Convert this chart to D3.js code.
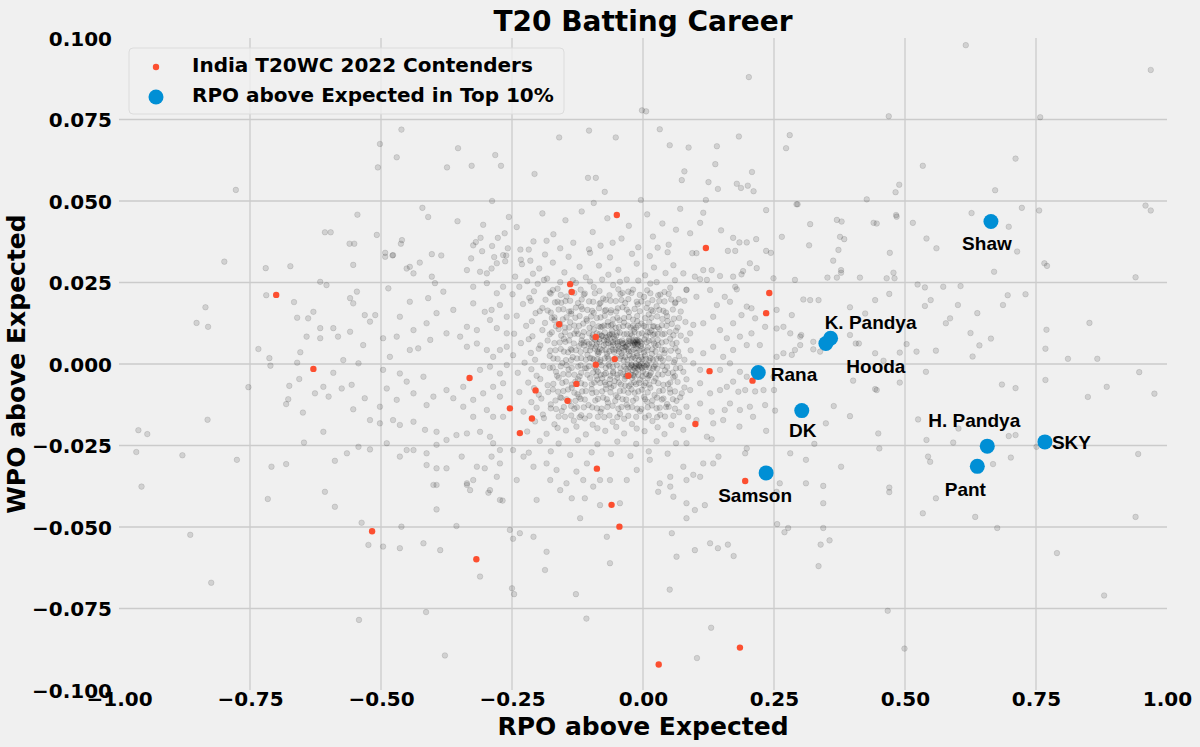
<!DOCTYPE html>
<html>
<head>
<meta charset="utf-8">
<script src="https://cdn.jsdelivr.net/npm/d3@7"></script>
<style>
  html, body { margin: 0; padding: 0; background: #f0f0f0; }
  svg { display: block; }
</style>
</head>
<body>
<svg id="chart" width="1200" height="747"></svg>
<script>
// ---------------- DATA ----------------
const xTicks = [-1, -0.75, -0.5, -0.25, 0, 0.25, 0.5, 0.75, 1];
const yTicks = [-0.1, -0.075, -0.05, -0.025, 0, 0.025, 0.05, 0.075, 0.1];

const titleText = "T20 Batting Career";
const xLabelText = "RPO above Expected";
const yLabelText = "WPO above Expected";
const legendLabels = ["India T20WC 2022 Contenders", "RPO above Expected in Top 10%"];

// Top-10% RPO above expected (blue)
const playerNames = ["Shaw", "K. Pandya", "Hooda", "Rana", "DK", "Samson", "H. Pandya", "Pant", "SKY"];
const playerRPO = [0.664, 0.358, 0.349, 0.220, 0.303, 0.235, 0.657, 0.638, 0.767];
const playerWPO = [0.0437, 0.0079, 0.0063, -0.0026, -0.0143, -0.0334, -0.0252, -0.0314, -0.0239];

// India T20WC 2022 contenders (red)
const contenderRPO = [-0.139, -0.136, -0.160, -0.090, -0.054, -0.090, -0.028, -0.127, -0.144, -0.205,
  -0.254, -0.212, -0.235, -0.331, -0.629, 0.127, 0.100, -0.088, -0.060, -0.045,
  -0.517, -0.318, 0.120, -0.050, -0.700, 0.241, 0.235, 0.209, 0.195, 0.185, 0.030];
const contenderWPO = [0.0245, 0.0221, 0.0122, 0.0083, 0.0015, -0.0002, -0.0036, -0.0061, -0.0113, -0.0081,
  -0.0136, -0.0167, -0.0212, -0.0043, -0.0015, -0.0022, -0.0184, -0.0321, -0.0432, -0.0499,
  -0.0513, -0.0599, 0.0356, 0.0457, 0.0212, 0.0218, 0.0156, -0.0051, -0.0359, -0.0870, -0.0922];

// All other batters (grey) [RPO above expected, WPO above expected]
const otherPlayers = [
  // upper left
  [-0.461,0.0719],[-0.502,0.0675],[-0.353,0.0662],[-0.470,0.0634],[-0.282,0.0641],[-0.506,0.0603],[-0.374,0.0603],[-0.327,0.0608],[-0.271,0.0608],[-0.207,0.0583],
  [-0.777,0.0534],[-0.288,0.0500],[-0.421,0.0479],[-0.410,0.0451],[-0.545,0.0458],[-0.354,0.0438],[-0.305,0.0427],[-0.256,0.0451],[-0.241,0.0420],[-0.607,0.0404],
  [-0.596,0.0404],[-0.508,0.0396],[-0.560,0.0369],[-0.551,0.0369],[-0.460,0.0380],[-0.462,0.0369],[-0.264,0.0401],[-0.277,0.0387],[-0.310,0.0387],[-0.319,0.0374],
  [-0.324,0.0364],[-0.288,0.0362],[-0.258,0.0355],[-0.307,0.0346],[-0.234,0.0351],[-0.218,0.0351],[-0.209,0.0376],[-0.492,0.0341],[-0.478,0.0333],[-0.403,0.0337],
  [-0.385,0.0333],[-0.284,0.0328],[-0.261,0.0333],[-0.263,0.0315],[-0.328,0.0324],[-0.799,0.0314],[-0.553,0.0304],[-0.426,0.0311],[-0.233,0.0320],[-0.215,0.0317],
  [-0.673,0.0300],[-0.720,0.0294],
  // upper middle
  [0.202,0.0880],[-0.002,0.0778],[0.006,0.0775],[0.469,0.0760],[-0.160,0.0695],[-0.103,0.0716],[-0.052,0.0695],[0.032,0.0720],[0.051,0.0671],[0.087,0.0664],
  [0.141,0.0668],[0.183,0.0698],[0.280,0.0702],[0.273,0.0662],[0.534,0.0608],[0.138,0.0613],[0.079,0.0591],[0.074,0.0564],[0.125,0.0558],[0.143,0.0537],
  [0.179,0.0553],[0.187,0.0540],[0.200,0.0547],[0.211,0.0530],[0.208,0.0589],[-0.105,0.0571],[-0.090,0.0571],[-0.073,0.0528],[-0.094,0.0494],[-0.004,0.0503],
  [0.120,0.0503],[0.489,0.0550],[0.482,0.0527],[0.427,0.0505],[0.295,0.0490],
  [-0.192,0.0462],[-0.171,0.0398],[-0.148,0.0441],[-0.133,0.0372],[-0.117,0.0468],[-0.096,0.0405],[-0.081,0.0363],[-0.068,0.0447],[-0.041,0.0385],[-0.027,0.0424],
  [-0.009,0.0358],[0.008,0.0459],[0.019,0.0391],[0.037,0.0431],[0.049,0.0366],[0.063,0.0412],[-0.158,0.0355],[-0.103,0.0352],[-0.058,0.0372],[0.028,0.0357],
  [-0.184,0.0378],[0.071,0.0476],
  // right side
  [0.616,0.0978],[0.969,0.0902],[0.758,0.0757],[0.711,0.0630],[0.672,0.0533],[0.627,0.0463],[0.723,0.0479],[0.756,0.0471],[0.698,0.0421],[0.959,0.0486],
  [0.969,0.0471],[0.714,0.0345],[0.766,0.0309],[0.771,0.0301],[0.670,0.0283],[0.940,0.0266],[0.606,0.0239],[0.696,0.0211],[0.730,0.0214],[0.687,0.0181],
  [0.601,0.0181],[0.638,0.0156],[0.852,0.0126],[0.625,0.0095],[0.664,0.0078],[0.642,0.0057],[0.629,0.0023],[0.770,0.0105],[0.768,0.0047],[0.811,0.0016],
  [0.867,0.0016],[0.947,-0.0025],[0.685,-0.0063],[0.711,-0.0074],[0.768,-0.0049],[0.885,-0.0070],[0.849,-0.0101],[0.976,-0.0091],[0.602,-0.0198],[0.698,-0.0221],
  [0.711,-0.0218],[0.702,-0.0287],[0.668,-0.0307],[0.945,-0.0276],[0.751,-0.0254],[0.634,-0.0469],[0.676,-0.0503],[0.940,-0.0469],[0.790,-0.0580],[0.880,-0.0710],
  // middle right
  [0.115,0.0464],[0.109,0.0433],[0.149,0.0410],[0.090,0.0401],[0.172,0.0387],[0.184,0.0373],[0.198,0.0373],[0.216,0.0383],[0.162,0.0347],[0.176,0.0347],
  [0.235,0.0347],[0.244,0.0341],[0.094,0.0340],[0.102,0.0340],[0.204,0.0309],[0.217,0.0294],[0.131,0.0288],[0.147,0.0270],[0.172,0.0268],[0.188,0.0275],
  [0.191,0.0285],[0.115,0.0288],[0.122,0.0258],[0.109,0.0260],[0.176,0.0237],[0.179,0.0229],[0.249,0.0263],[0.293,0.0490],[0.235,0.0472],[0.265,0.0390],
  [0.319,0.0429],[0.370,0.0442],[0.379,0.0437],[0.376,0.0390],[0.384,0.0383],[0.317,0.0364],[0.373,0.0350],[0.363,0.0317],[0.440,0.0433],[0.446,0.0431],
  [0.483,0.0457],[0.484,0.0452],[0.515,0.0433],[0.471,0.0341],[0.541,0.0385],[0.560,0.0355],[0.378,0.0288],[0.378,0.0280],[0.352,0.0265],[0.370,0.0265],
  [0.414,0.0265],[0.290,0.0258],[0.465,0.0263],[0.478,0.0280],[0.480,0.0263],[0.524,0.0244],[0.538,0.0235],[0.573,0.0237],[0.470,0.0215],[0.443,0.0196],
  [0.306,0.0198],[0.319,0.0196],[0.335,0.0196],[0.395,0.0174],[0.424,0.0155],[0.549,0.0196],[0.538,0.0178],[0.578,0.0125],[0.586,0.0140],[0.559,0.0041],
  [0.522,0.0038],[0.540,-0.0024],[0.503,0.0061],[0.459,0.0010],[0.490,-0.0057],[0.401,-0.0051],[0.443,-0.0077],[0.446,-0.0080],[0.364,-0.0129],[0.395,-0.0160],
  [0.349,-0.0182],[0.327,-0.0245],[0.378,-0.0315],[0.311,-0.0294],[0.281,-0.0274],[0.451,-0.0259],[0.449,-0.0213],[0.525,-0.0170],[0.541,-0.0233],[0.544,-0.0284],
  [0.548,-0.0300],[0.592,-0.0241],[0.559,-0.0412],[0.470,-0.0379],[0.470,-0.0393],[0.344,-0.0374],[0.344,-0.0427],[0.311,-0.0366],[0.534,-0.0458],[0.261,-0.0366],
  [0.255,-0.0392],[0.195,-0.0274],[0.198,-0.0259],[0.144,-0.0284],[0.134,-0.0305],[0.083,-0.0243],[0.131,-0.0231],[0.184,-0.0192],[0.235,-0.0205],[0.210,-0.0162],
  [0.252,-0.0143],[0.233,-0.0126],[0.166,-0.0121],[0.185,-0.0141],[0.204,-0.0131],[0.230,-0.0080],[0.250,-0.0080],[0.249,-0.0039],[0.214,-0.0084],[0.128,-0.0090],
  [0.147,-0.0080],[0.172,-0.0054],[0.182,-0.0085],[0.109,-0.0121],[0.131,-0.0146],[0.156,-0.0141],[0.083,-0.0131],[0.086,-0.0162],[0.134,-0.0182],[0.153,-0.0172],
  [0.255,0.0022],[0.268,0.0033],[0.284,0.0028],[0.290,0.0043],[0.300,0.0084],[0.300,0.0058],[0.281,0.0094],[0.325,0.0045],[0.338,0.0038],[0.406,0.0063],
  [0.412,0.0063],[0.395,0.0089],[0.302,0.0089],[0.255,0.0109],[0.255,0.0166],[0.268,0.0114],[0.284,0.0150],[0.325,0.0068],[0.443,0.0033],[0.490,0.0035],
  [0.077,0.0278],[0.099,0.0268],[0.083,0.0227],[0.102,0.0206],[0.128,0.0227],[0.156,0.0206],[0.141,0.0181],[0.166,0.0191],[0.198,0.0176],[0.207,0.0171],
  [0.214,0.0140],[0.188,0.0150],[0.172,0.0125],[0.134,0.0145],[0.115,0.0125],[0.096,0.0120],[0.090,0.0094],[0.147,0.0104],[0.160,0.0079],[0.185,0.0084],
  [0.198,0.0058],[0.207,0.0094],[0.233,0.0114],[0.223,0.0058],[0.134,0.0053],[0.115,0.0033],[0.153,0.0022],[0.172,0.0043],[0.096,0.0002],[0.077,-0.0024],
  [0.109,-0.0018],[0.147,-0.0018],[0.166,0.0002],[0.185,-0.0024],[0.109,-0.0059],[0.090,-0.0080],[0.160,-0.0070],[0.198,-0.0039],[0.195,-0.0080],[0.074,-0.0090],
  [0.077,-0.0202],[0.102,-0.0172],[0.122,-0.0223],
  // middle left
  [-0.616,0.0252],[-0.604,0.0242],[-0.546,0.0222],[-0.553,0.0186],[-0.559,0.0202],[-0.486,0.0232],[-0.629,0.0160],[-0.639,0.0140],[-0.616,0.0110],[-0.591,0.0110],
  [-0.559,0.0099],[-0.531,0.0150],[-0.511,0.0150],[-0.521,0.0130],[-0.642,0.0084],[-0.616,0.0079],[-0.582,0.0084],[-0.534,0.0058],[-0.496,0.0079],[-0.543,0.0002],
  [-0.572,0.0012],[-0.591,-0.0027],[-0.610,-0.0070],[-0.575,-0.0075],[-0.556,-0.0064],[-0.626,-0.0090],[-0.600,-0.0100],[-0.649,-0.0149],[-0.610,-0.0208],[-0.553,-0.0139],
  [-0.531,-0.0105],[-0.521,-0.0172],[-0.502,-0.0131],[-0.647,-0.0241],[-0.588,-0.0297],[-0.565,-0.0274],[-0.543,-0.0254],[-0.521,-0.0262],[-0.607,-0.0392],[-0.588,-0.0438],
  [-0.537,-0.0487],[-0.524,-0.0555],[-0.492,0.0329],[-0.477,0.0334],[-0.445,0.0298],[-0.451,0.0293],[-0.438,0.0278],[-0.403,0.0268],[-0.397,0.0248],[-0.445,0.0191],
  [-0.410,0.0202],[-0.394,0.0156],[-0.381,0.0222],[-0.362,0.0166],[-0.464,0.0145],[-0.438,0.0104],[-0.413,0.0125],[-0.470,0.0084],[-0.445,0.0043],[-0.429,0.0048],
  [-0.406,0.0074],[-0.375,0.0094],[-0.349,0.0084],[-0.483,0.0022],[-0.496,-0.0018],[-0.464,-0.0029],[-0.451,-0.0054],[-0.419,-0.0039],[-0.489,-0.0075],[-0.470,-0.0110],
  [-0.438,-0.0090],[-0.413,-0.0126],[-0.400,-0.0100],[-0.375,-0.0080],[-0.362,-0.0105],[-0.502,-0.0182],[-0.477,-0.0172],[-0.464,-0.0187],[-0.438,-0.0177],[-0.416,-0.0202],
  [-0.394,-0.0208],[-0.489,-0.0243],[-0.451,-0.0264],[-0.438,-0.0264],[-0.413,-0.0274],[-0.394,-0.0248],[-0.375,-0.0233],[-0.356,-0.0218],[-0.464,-0.0284],[-0.413,-0.0310],
  [-0.394,-0.0320],[-0.375,-0.0320],[-0.346,-0.0284],[-0.400,-0.0371],[-0.394,-0.0371],[-0.336,-0.0371],[-0.330,-0.0387],[-0.394,-0.0446],[-0.461,-0.0499],[-0.356,-0.0497],
  [-0.387,-0.0571],[-0.419,-0.0550],[-0.496,-0.0560],[-0.464,-0.0565],[-0.311,-0.0652],[-0.336,0.0288],[-0.311,0.0283],[-0.298,0.0278],[-0.289,0.0293],[-0.279,0.0309],
  [-0.267,0.0334],[-0.324,0.0237],[-0.298,0.0248],[-0.279,0.0217],[-0.267,0.0237],[-0.324,0.0186],[-0.302,0.0160],[-0.289,0.0166],[-0.273,0.0181],[-0.260,0.0145],
  [-0.336,0.0114],[-0.317,0.0104],[-0.292,0.0135],[-0.279,0.0110],[-0.260,0.0094],[-0.336,0.0053],[-0.317,0.0063],[-0.298,0.0043],[-0.286,0.0022],[-0.273,0.0043],
  [-0.260,0.0053],[-0.311,-0.0018],[-0.292,-0.0008],[-0.273,-0.0029],[-0.260,-0.0003],[-0.343,-0.0070],[-0.324,-0.0110],[-0.305,-0.0090],[-0.286,-0.0070],[-0.273,-0.0100],
  [-0.267,-0.0059],[-0.343,-0.0131],[-0.324,-0.0162],[-0.298,-0.0141],[-0.286,-0.0162],[-0.267,-0.0162],[-0.336,-0.0213],[-0.311,-0.0208],[-0.292,-0.0223],[-0.273,-0.0264],
  [-0.286,-0.0243],[-0.317,-0.0315],[-0.302,-0.0320],[-0.279,-0.0346],[-0.273,-0.0305],[-0.289,-0.0284],[-0.336,-0.0366],[-0.324,-0.0356],[-0.292,-0.0387],[-0.273,-0.0417],
  [-0.268,-0.0419],[-0.295,-0.0395],
  // far left
  [-0.719,0.0211],[-0.666,0.0190],[-0.660,0.0142],[-0.835,0.0174],[-0.852,0.0126],[-0.830,0.0114],[-0.734,0.0046],[-0.713,0.0018],[-0.711,-0.0005],[-0.654,0.0036],
  [-0.660,0.0004],[-0.753,-0.0071],[-0.656,-0.0046],[-0.675,-0.0067],[-0.677,-0.0108],[-0.681,-0.0123],[-0.831,-0.0171],[-0.963,-0.0203],[-0.946,-0.0215],[-0.967,-0.0270],
  [-0.879,-0.0280],[-0.775,-0.0294],[-0.709,-0.0315],[-0.681,-0.0307],[-0.957,-0.0376],[-0.716,-0.0414],[-0.864,-0.0524],
  // lower band
  [-0.254,-0.0509],[-0.235,-0.0519],[-0.248,-0.0536],[-0.209,-0.0530],[-0.184,-0.0576],[-0.187,-0.0632],[-0.248,-0.0264],[-0.228,-0.0284],[-0.209,-0.0315],[-0.184,-0.0305],
  [-0.241,-0.0356],[-0.203,-0.0417],[-0.177,-0.0356],[-0.165,-0.0325],[-0.158,-0.0387],[-0.146,-0.0366],[-0.127,-0.0330],[-0.114,-0.0356],[-0.107,-0.0305],[-0.136,-0.0412],
  [-0.111,-0.0412],[-0.095,-0.0376],[-0.082,-0.0356],[-0.063,-0.0356],[-0.120,-0.0473],[-0.082,-0.0433],[-0.044,-0.0427],[-0.031,-0.0356],[-0.012,-0.0325],[0.013,-0.0294],
  [0.032,-0.0366],[0.052,-0.0346],[0.077,-0.0315],[0.083,-0.0356],[0.109,-0.0346],[0.115,-0.0305],[0.029,-0.0392],[0.052,-0.0376],[0.058,-0.0407],[0.083,-0.0427],
  [0.099,-0.0448],[0.118,-0.0433],[0.055,-0.0519],[0.064,-0.0591],[0.099,-0.0571],[0.128,-0.0550],[-0.063,-0.0611],[-0.069,-0.0530],[0.096,-0.0340],[0.083,-0.0473],
  [-0.824,-0.0671],[-0.250,-0.0688],[-0.246,-0.0706],[-0.128,-0.0706],[-0.108,-0.0781],[-0.542,-0.0785],[-0.414,-0.0761],[-0.378,-0.0894],[0.051,-0.0692],[0.130,-0.0809],
  [0.103,-0.0902],[0.256,-0.0491],[0.277,-0.0503],[0.270,-0.0516],[0.344,-0.0503],[0.356,-0.0541],[0.339,-0.0554],[0.143,-0.0565],[0.162,-0.0554],[0.173,-0.0589],
  [0.335,-0.0620],[0.467,-0.0757],[0.499,-0.0873],
  [-0.218,-0.0272],[-0.176,-0.0268],[-0.139,-0.0279],[-0.098,-0.0271],[-0.061,-0.0276],[-0.024,-0.0282],[0.011,-0.0268],[0.047,-0.0275],
  // central cloud, outer
  [-0.187,0.0336],[-0.142,0.0329],[-0.101,0.0341],[-0.063,0.0327],[-0.021,0.0338],[0.013,0.0331],[0.047,0.0343],
  [-0.231,0.0306],[-0.198,0.0293],[-0.172,0.0311],[-0.121,0.0298],[-0.084,0.0302],[-0.047,0.0289],[-0.012,0.0308],[0.021,0.0296],[0.058,0.0303],
  [-0.244,0.0268],[-0.210,0.0277],[-0.183,0.0262],[-0.150,0.0281],[-0.109,0.0266],[-0.066,0.0274],[-0.031,0.0259],[0.004,0.0272],[0.043,0.0279],
  [-0.236,0.0237],[-0.201,0.0246],[-0.163,0.0231],[-0.128,0.0249],[-0.094,0.0236],[-0.057,0.0242],[-0.019,0.0228],[0.014,0.0247],[0.052,0.0234],
  [-0.249,0.0214],[-0.217,0.0203],[-0.178,0.0219],[-0.146,0.0207],[-0.111,0.0216],[-0.076,0.0201],[-0.039,0.0218],[0.002,0.0206],[0.033,0.0213],[0.068,0.0199],
  [-0.229,0.0184],[-0.192,0.0172],[-0.156,0.0188],[-0.118,0.0176],[-0.083,0.0185],[-0.048,0.0171],[-0.010,0.0183],[0.026,0.0177],[0.061,0.0186],
  [-0.241,0.0148],[-0.205,0.0156],[-0.169,0.0143],[-0.137,0.0154],[-0.099,0.0146],[-0.062,0.0158],[-0.027,0.0144],[0.011,0.0152],[0.046,0.0147],
  [-0.223,0.0117],[-0.187,0.0126],[-0.149,0.0112],[-0.114,0.0124],[-0.074,0.0118],[-0.036,0.0127],[0.019,0.0115],[0.055,0.0123],
  [-0.246,0.0093],[-0.211,0.0085],[-0.174,0.0097],[-0.139,0.0088],[-0.103,0.0094],[-0.067,0.0083],[0.037,0.0091],[0.072,0.0087],
  [-0.233,0.0064],[-0.196,0.0057],[-0.159,0.0066],[-0.122,0.0055],[-0.088,0.0063],[0.029,0.0058],[0.064,0.0065],
  [-0.248,0.0027],[-0.214,0.0034],[-0.178,0.0025],[-0.143,0.0036],[-0.106,0.0028],[0.041,0.0033],[0.069,0.0024],
  [-0.226,0.0004],[-0.190,-0.0006],[-0.154,0.0003],[-0.119,-0.0004],[-0.082,0.0006],[0.024,-0.0002],[0.059,0.0005],
  [-0.239,-0.0027],[-0.203,-0.0036],[-0.166,-0.0024],[-0.131,-0.0033],[-0.095,-0.0026],[0.013,-0.0034],[0.048,-0.0028],
  [-0.219,-0.0057],[-0.182,-0.0065],[-0.147,-0.0054],[-0.111,-0.0063],[-0.073,-0.0056],[-0.034,-0.0066],[0.005,-0.0058],[0.039,-0.0064],[0.066,-0.0055],
  [-0.236,-0.0086],[-0.199,-0.0094],[-0.162,-0.0085],[-0.125,-0.0093],[-0.089,-0.0087],[-0.052,-0.0096],[-0.016,-0.0088],[0.022,-0.0095],[0.061,-0.0084],
  [-0.213,-0.0117],[-0.176,-0.0124],[-0.141,-0.0114],[-0.104,-0.0126],[-0.067,-0.0118],[-0.031,-0.0125],[0.008,-0.0116],[0.046,-0.0123],
  [-0.228,-0.0146],[-0.191,-0.0155],[-0.155,-0.0144],[-0.118,-0.0157],[-0.081,-0.0147],[-0.044,-0.0153],[-0.006,-0.0145],[0.033,-0.0156],[0.069,-0.0148],
  [-0.206,-0.0176],[-0.169,-0.0185],[-0.132,-0.0174],[-0.096,-0.0186],[-0.058,-0.0177],[-0.021,-0.0184],[0.018,-0.0175],[0.054,-0.0187],
  [-0.221,-0.0207],[-0.184,-0.0214],[-0.147,-0.0204],[-0.109,-0.0216],[-0.072,-0.0205],[-0.036,-0.0213],[0.003,-0.0206],[0.041,-0.0215],
  [-0.197,-0.0236],[-0.161,-0.0244],[-0.124,-0.0234],[-0.087,-0.0246],[-0.049,-0.0238],[-0.013,-0.0245],[0.026,-0.0237],[0.063,-0.0243],
  // central cloud, intermediate
  [-0.221,0.0254],[-0.189,0.0258],[-0.158,0.0251],[-0.134,0.0257],[-0.101,0.0253],[-0.078,0.0259],[-0.044,0.0252],[-0.009,0.0256],[0.026,0.0251],[0.061,0.0257],
  [-0.208,0.0223],[-0.172,0.0227],[-0.137,0.0221],[-0.119,0.0228],[-0.083,0.0224],[-0.047,0.0229],[-0.028,0.0222],[0.008,0.0226],[0.041,0.0221],[0.083,0.0228],
  [-0.214,0.0193],[-0.186,0.0197],[-0.163,0.0191],[-0.041,0.0196],[0.041,0.0192],[0.054,0.0198],[0.079,0.0194],
  [-0.197,0.0162],[-0.176,0.0158],[-0.141,0.0161],[-0.094,0.0157],[-0.073,0.0163],[-0.027,0.0159],[0.019,0.0162],[0.044,0.0158],[0.072,0.0161],
  [-0.212,0.0131],[-0.169,0.0134],[-0.139,0.0128],[-0.107,0.0133],[-0.067,0.0129],[-0.045,0.0134],[-0.011,0.0131],[0.012,0.0128],[0.047,0.0132],[0.081,0.0129],
  [-0.192,0.0104],[-0.161,0.0107],[-0.127,0.0101],[-0.094,0.0106],[-0.059,0.0102],[-0.017,0.0106],[0.016,0.0103],[0.031,0.0107],[0.063,0.0102],
  [-0.218,0.0076],[-0.182,0.0072],[-0.151,0.0077],[-0.117,0.0073],[-0.095,0.0078],[0.028,0.0074],[0.052,0.0078],[0.083,0.0073],
  [-0.199,0.0047],[-0.167,0.0042],[-0.138,0.0046],[-0.109,0.0043],[-0.082,0.0047],[0.036,0.0044],[0.062,0.0048],[0.091,0.0042],
  [-0.206,0.0013],[-0.171,0.0017],[-0.137,0.0012],[-0.118,0.0018],[-0.094,0.0014],[0.038,0.0011],[0.049,0.0017],[0.079,0.0013],
  [-0.213,-0.0016],[-0.178,-0.0012],[-0.142,-0.0017],[-0.111,-0.0013],[-0.089,-0.0018],[0.019,-0.0014],[0.042,-0.0019],[0.071,-0.0012],
  [-0.196,-0.0046],[-0.161,-0.0042],[-0.124,-0.0047],[-0.101,-0.0043],[-0.087,-0.0048],[0.024,-0.0044],[0.058,-0.0041],[0.083,-0.0047],
  [-0.208,-0.0074],[-0.172,-0.0078],[-0.136,-0.0073],[-0.098,-0.0077],[-0.061,-0.0072],[-0.022,-0.0078],[0.014,-0.0073],[0.051,-0.0077],[0.079,-0.0072],
  [-0.194,-0.0106],[-0.158,-0.0102],[-0.119,-0.0107],[-0.076,-0.0103],[-0.039,-0.0108],[0.002,-0.0101],[0.039,-0.0106],[0.071,-0.0102],
  [-0.203,-0.0134],[-0.166,-0.0138],[-0.126,-0.0133],[-0.079,-0.0137],[-0.041,-0.0132],[-0.003,-0.0138],[0.032,-0.0134],[0.061,-0.0137],
  [-0.189,-0.0166],[-0.149,-0.0162],[-0.111,-0.0167],[-0.074,-0.0163],[-0.036,-0.0168],[0.004,-0.0164],[0.042,-0.0161],
  [-0.163,-0.0196],[-0.127,-0.0192],[-0.087,-0.0197],[-0.051,-0.0193],[-0.012,-0.0198],[0.028,-0.0194],
  // central cloud, dense band
  [-0.176,0.0216],[-0.157,0.0212],[-0.131,0.0218],[-0.113,0.0213],[-0.092,0.0217],[-0.064,0.0211],[-0.043,0.0214],[-0.022,0.0218],[-0.006,0.0212],[0.014,0.0217],[0.029,0.0211],[0.049,0.0215],
  [-0.168,0.0189],[-0.148,0.0193],[-0.124,0.0187],[-0.103,0.0192],[-0.081,0.0188],[-0.062,0.0194],[-0.034,0.0187],[-0.012,0.0191],[0.009,0.0186],[0.031,0.0193],[0.062,0.0189],
  [-0.182,0.0164],[-0.161,0.0167],[-0.137,0.0162],[-0.116,0.0168],[-0.097,0.0163],[-0.071,0.0166],[-0.051,0.0161],[-0.031,0.0167],[-0.006,0.0162],[0.016,0.0166],[0.039,0.0163],[0.057,0.0167],
  [-0.174,0.0141],[-0.153,0.0137],[-0.129,0.0142],[-0.108,0.0138],[-0.081,0.0143],[-0.057,0.0137],[-0.036,0.0141],[-0.019,0.0136],[0.016,0.0142],[0.037,0.0138],[0.069,0.0141],
  [-0.166,0.0116],[-0.141,0.0112],[-0.122,0.0117],[-0.102,0.0111],[-0.078,0.0115],[-0.061,0.0119],[-0.046,0.0113],[-0.029,0.0118],[-0.013,0.0112],[0.002,0.0117],[0.028,0.0113],[0.045,0.0117],[0.066,0.0112],
  [-0.178,0.0091],[-0.156,0.0087],[-0.131,0.0093],[-0.116,0.0086],[-0.096,0.0089],[-0.079,0.0087],[-0.063,0.0091],[-0.051,0.0087],[-0.036,0.0091],[-0.021,0.0088],[-0.008,0.0092],[0.006,0.0087],[0.019,0.0089],[0.041,0.0093],[0.058,0.0088],
  [-0.169,0.0064],[-0.148,0.0068],[-0.132,0.0063],[-0.113,0.0066],[-0.097,0.0062],[-0.083,0.0067],[-0.071,0.0062],[-0.049,0.0068],[-0.039,0.0064],[-0.003,0.0063],[0.007,0.0067],[0.021,0.0063],[0.036,0.0066],[0.056,0.0062],
  [-0.177,0.0041],[-0.151,0.0038],[-0.136,0.0043],[-0.119,0.0037],[-0.101,0.0042],[-0.087,0.0038],[-0.078,0.0043],[-0.064,0.0039],[-0.058,0.0044],[-0.046,0.0038],[0.008,0.0042],[0.024,0.0038],[0.042,0.0043],[0.067,0.0039],
  [-0.163,0.0016],[-0.147,0.0012],[-0.126,0.0017],[-0.109,0.0013],[-0.101,0.0018],[-0.081,0.0012],[-0.066,0.0016],[-0.052,0.0019],[-0.037,0.0011],[-0.022,0.0017],[-0.008,0.0012],[0.006,0.0016],[0.019,0.0013],[0.034,0.0017],[0.061,0.0012],
  [-0.172,-0.0011],[-0.157,-0.0007],[-0.136,-0.0012],[-0.124,-0.0008],[-0.108,-0.0013],[-0.092,-0.0009],[-0.071,-0.0012],[-0.057,-0.0009],[-0.043,-0.0013],[0.012,-0.0011],[0.027,-0.0014],[0.046,-0.0009],[0.063,-0.0013],
  [-0.164,-0.0036],[-0.142,-0.0032],[-0.121,-0.0038],[-0.106,-0.0033],[-0.089,-0.0037],[-0.074,-0.0032],[-0.062,-0.0036],[-0.049,-0.0033],[-0.033,-0.0038],[-0.019,-0.0034],[0.011,-0.0036],[0.037,-0.0032],[0.061,-0.0037],
  [-0.171,-0.0061],[-0.154,-0.0058],[-0.136,-0.0063],[-0.118,-0.0059],[-0.098,-0.0062],[-0.082,-0.0058],[-0.064,-0.0061],[-0.046,-0.0057],[-0.023,-0.0062],[-0.007,-0.0058],[0.012,-0.0063],[0.029,-0.0059],[0.048,-0.0062],
  [-0.181,-0.0086],[-0.152,-0.0083],[-0.131,-0.0088],[-0.116,-0.0084],[-0.097,-0.0089],[-0.078,-0.0084],[-0.062,-0.0087],[-0.044,-0.0083],[-0.028,-0.0088],[-0.009,-0.0084],[0.009,-0.0087],[0.031,-0.0083],[0.052,-0.0088],
  [-0.167,-0.0112],[-0.146,-0.0108],[-0.129,-0.0113],[-0.111,-0.0109],[-0.091,-0.0112],[-0.069,-0.0108],[-0.053,-0.0113],[-0.032,-0.0109],[-0.019,-0.0113],[0.004,-0.0108],[0.018,-0.0112],[0.036,-0.0109],[0.064,-0.0113],
  [-0.176,-0.0136],[-0.151,-0.0132],[-0.131,-0.0137],[-0.113,-0.0133],[-0.088,-0.0136],[-0.068,-0.0132],[-0.047,-0.0137],[-0.029,-0.0133],[-0.011,-0.0137],[0.009,-0.0133],[0.026,-0.0136],[0.044,-0.0132],
  [-0.161,-0.0161],[-0.137,-0.0158],[-0.121,-0.0163],[-0.102,-0.0159],[-0.086,-0.0162],[-0.064,-0.0158],[-0.049,-0.0163],[-0.028,-0.0159],[-0.013,-0.0162],[0.011,-0.0158],[0.027,-0.0163],[0.058,-0.0159],
  // central cloud, inner
  [-0.139,0.0194],[-0.117,0.0198],[-0.095,0.0191],[-0.071,0.0197],[-0.052,0.0193],[-0.028,0.0199],[-0.003,0.0192],[0.018,0.0196],
  [-0.152,0.0168],[-0.128,0.0173],[-0.106,0.0166],[-0.084,0.0171],[-0.061,0.0165],[-0.039,0.0174],[-0.016,0.0169],[0.007,0.0172],[0.031,0.0166],
  [-0.146,0.0143],[-0.121,0.0147],[-0.088,0.0141],[-0.073,0.0148],[-0.049,0.0142],[-0.011,0.0147],[0.004,0.0141],[0.027,0.0146],[0.059,0.0139],
  [-0.158,0.0122],[-0.131,0.0118],[-0.096,0.0123],[-0.085,0.0116],[-0.058,0.0121],[-0.019,0.0117],[-0.003,0.0124],[0.036,0.0119],
  [-0.149,0.0097],[-0.124,0.0092],[-0.113,0.0098],[-0.083,0.0091],[-0.049,0.0096],[-0.024,0.0093],[0.009,0.0097],[0.022,0.0092],[0.051,0.0098],
  [-0.141,0.0072],[-0.107,0.0068],[-0.074,0.0073],[-0.057,0.0067],[0.011,0.0071],[0.044,0.0069],
  [-0.157,0.0046],[-0.128,0.0042],[-0.092,0.0047],[-0.071,0.0043],[0.018,0.0045],[0.053,0.0041],
  [-0.134,0.0021],[-0.097,0.0017],[-0.068,0.0023],[0.014,0.0018],[0.031,0.0023],
  [-0.146,-0.0004],[-0.103,-0.0007],[-0.066,-0.0002],[0.037,-0.0006],
  [-0.152,-0.0031],[-0.118,-0.0027],[-0.081,-0.0033],[-0.057,-0.0028],[0.029,-0.0032],[0.057,-0.0026],
  [-0.129,-0.0054],[-0.093,-0.0057],[-0.054,-0.0052],[-0.017,-0.0056],[0.021,-0.0053],[0.052,-0.0057],
  [-0.143,-0.0078],[-0.109,-0.0083],[-0.071,-0.0077],[-0.037,-0.0082],[-0.002,-0.0079],[0.038,-0.0081],
  [-0.156,-0.0104],[-0.122,-0.0101],[-0.086,-0.0107],[-0.048,-0.0102],[-0.013,-0.0106],[0.027,-0.0103],[0.057,-0.0108],
  [-0.137,-0.0129],[-0.097,-0.0133],[-0.058,-0.0128],[-0.021,-0.0132],[0.017,-0.0127],[0.049,-0.0131],
  // central cloud, core
  [-0.081,0.0113],[-0.067,0.0117],[-0.052,0.0111],[-0.038,0.0116],[-0.024,0.0112],[-0.009,0.0118],[0.006,0.0113],[0.021,0.0116],
  [-0.088,0.0094],[-0.073,0.0097],[-0.059,0.0092],[-0.044,0.0096],[-0.031,0.0093],[-0.016,0.0098],[-0.002,0.0094],[0.013,0.0097],[0.028,0.0092],
  [-0.083,0.0076],[-0.068,0.0073],[-0.054,0.0077],[-0.040,0.0072],[-0.026,0.0078],[-0.011,0.0074],[0.003,0.0076],[0.018,0.0072],
  [-0.089,0.0054],[-0.075,0.0057],[-0.061,0.0053],[-0.047,0.0056],[-0.033,0.0052],[-0.019,0.0058],[-0.004,0.0055],[0.009,0.0051],[0.024,0.0056],
  [-0.084,0.0036],[-0.069,0.0032],[-0.055,0.0037],[-0.041,0.0033],[-0.027,0.0038],[-0.012,0.0034],[0.002,0.0036],[0.017,0.0031],
  [-0.087,0.0014],[-0.073,0.0017],[-0.058,0.0012],[-0.044,0.0016],[-0.030,0.0013],[-0.015,0.0018],[-0.001,0.0014],[0.012,0.0011],[0.026,0.0016],
  [-0.079,-0.0004],[-0.064,-0.0007],[-0.050,-0.0003],[-0.036,-0.0008],[-0.022,-0.0002],[-0.007,-0.0006],[0.007,-0.0004],[0.021,-0.0008],
  [-0.086,-0.0024],[-0.071,-0.0028],[-0.057,-0.0023],[-0.043,-0.0027],[-0.029,-0.0022],[-0.014,-0.0026],[0.000,-0.0023],[0.015,-0.0027],
  [-0.078,-0.0044],[-0.063,-0.0047],[-0.049,-0.0042],[-0.035,-0.0046],[-0.021,-0.0043],[-0.006,-0.0048],[0.009,-0.0044],
  [-0.071,-0.0064],[-0.056,-0.0067],[-0.042,-0.0063],[-0.027,-0.0068],[-0.013,-0.0062],[0.002,-0.0066],
  [-0.066,0.0064],[-0.061,0.0069],[-0.057,0.0059],[-0.049,0.0063],[-0.044,0.0068],[-0.038,0.0062],[-0.033,0.0066],[-0.027,0.0071],[-0.036,0.0041],[-0.029,0.0045],
  [-0.023,0.0039],[-0.018,0.0044],[-0.013,0.0048],[-0.007,0.0042],[-0.002,0.0046],[-0.041,0.0024],[-0.034,0.0021],[-0.026,0.0027],[-0.019,0.0022],[-0.011,0.0025],
  [-0.004,0.0021],[0.004,0.0026],[-0.038,-0.0031],[-0.031,-0.0036],[-0.024,-0.0032],[-0.017,-0.0037],[-0.009,-0.0033],[-0.001,-0.0038],[0.006,-0.0031],[-0.097,0.0081],
  [-0.091,0.0074],[-0.078,0.0086],[-0.071,0.0081],[-0.064,0.0088],[-0.056,0.0084],[-0.118,0.0063],[-0.112,0.0057],[-0.103,0.0061],[-0.099,0.0053],[-0.086,0.0031],
  [-0.019,0.0071],[-0.016,0.0064],[-0.013,0.0069],[-0.010,0.0066],[-0.008,0.0072],[-0.014,0.0074],[-0.011,0.0061],[-0.017,0.0067],[-0.021,0.0063],[-0.006,0.0068],
  [-0.024,0.0069],[-0.009,0.0058],[-0.015,0.0059],[-0.028,0.0061],[-0.031,0.0056],[-0.035,0.0052],[-0.040,0.0049],[-0.046,0.0047],[-0.052,0.0044],
  [-0.022,-0.0004],[-0.018,-0.0009],[-0.014,-0.0006],[-0.011,-0.0011],[-0.008,-0.0003],[-0.005,-0.0008],[-0.002,-0.0012],[0.002,-0.0005],[0.005,-0.0010],[-0.016,-0.0014],
  [-0.009,-0.0016],[-0.025,-0.0011],[-0.029,-0.0002],[0.008,-0.0001],[-0.013,0.0001],[-0.003,0.0002],[-0.020,-0.0019],[-0.032,-0.0015]
];

// ---------------- LAYOUT / STYLE ----------------
const W = 1200, H = 747;
const plot = { left: 119, right: 1167, top: 38, bottom: 690 };
const colors = { bg: "#f0f0f0", grid: "#cbcbcb", red: "#fc4f30", blue: "#008fd5", text: "#000000" };
const mainFont = "'DejaVu Sans', sans-serif";
const annoFont = "'Liberation Sans', Arial, sans-serif";

// label offsets (px) relative to each blue point
const labelLayout = {
  "Shaw":      { dx: -4,  dy: 28,  anchor: "middle" },
  "K. Pandya": { dx: 40,  dy: -9,  anchor: "middle" },
  "Hooda":     { dx: 50,  dy: 29.5, anchor: "middle" },
  "Rana":      { dx: 12.5, dy: 9,  anchor: "start" },
  "DK":        { dx: 1,   dy: 26,  anchor: "middle" },
  "Samson":    { dx: -11, dy: 29,  anchor: "middle" },
  "H. Pandya": { dx: -13, dy: -19, anchor: "middle" },
  "Pant":      { dx: -12, dy: 29.5, anchor: "middle" },
  "SKY":       { dx: 7,   dy: 7.5, anchor: "start" }
};

// ---------------- DRAW ----------------
const svg = d3.select("#chart");
svg.append("rect").attr("width", W).attr("height", H).attr("fill", colors.bg);

const x = d3.scaleLinear().domain([-1, 1]).range([plot.left, plot.right]);
const y = d3.scaleLinear().domain([-0.1, 0.1]).range([plot.bottom, plot.top]);

const minus = s => s.replace("-", "\u2212");

// grid
const inner = arr => arr.slice(1, -1);
const gridG = svg.append("g");
gridG.selectAll("line.vx").data(inner(xTicks)).join("line")
  .attr("x1", d => x(d)).attr("x2", d => x(d))
  .attr("y1", plot.top).attr("y2", plot.bottom)
  .attr("stroke", colors.grid).attr("stroke-width", 1.3);
gridG.selectAll("line.hy").data(inner(yTicks)).join("line")
  .attr("y1", d => y(d)).attr("y2", d => y(d))
  .attr("x1", plot.left).attr("x2", plot.right)
  .attr("stroke", colors.grid).attr("stroke-width", 1.3);

// axes (labels only)
const xAxis = d3.axisBottom(x).tickValues(xTicks).tickSize(0).tickPadding(2)
  .tickFormat(d => minus(d3.format(".2f")(d)));
const yAxis = d3.axisLeft(y).tickValues(yTicks).tickSize(0).tickPadding(7)
  .tickFormat(d => minus(d3.format(".3f")(d)));

const gx = svg.append("g").attr("transform", `translate(0,${plot.bottom})`).call(xAxis);
const gy = svg.append("g").attr("transform", `translate(${plot.left},0)`).call(yAxis);
[gx, gy].forEach(g => {
  g.select(".domain").remove();
  g.selectAll("text").attr("font-family", mainFont).attr("font-size", 20)
    .attr("font-weight", "bold").attr("fill", colors.text);
});
gy.selectAll("text").attr("dy", "0.36em");

// grey cloud
svg.append("g").selectAll("circle").data(otherPlayers).join("circle")
  .attr("cx", d => x(d[0])).attr("cy", d => y(d[1])).attr("r", 2.8)
  .attr("fill", "#000").attr("fill-opacity", 0.13)
  .attr("stroke", "#000").attr("stroke-opacity", 0.1).attr("stroke-width", 1);

// contenders
svg.append("g").selectAll("circle").data(d3.range(contenderRPO.length)).join("circle")
  .attr("cx", i => x(contenderRPO[i])).attr("cy", i => y(contenderWPO[i])).attr("r", 3.2)
  .attr("fill", colors.red);

// top 10%
svg.append("g").selectAll("circle").data(d3.range(playerNames.length)).join("circle")
  .attr("cx", i => x(playerRPO[i])).attr("cy", i => y(playerWPO[i])).attr("r", 7.5)
  .attr("fill", colors.blue);

svg.append("g").selectAll("text").data(d3.range(playerNames.length)).join("text")
  .attr("x", i => x(playerRPO[i]) + labelLayout[playerNames[i]].dx)
  .attr("y", i => y(playerWPO[i]) + labelLayout[playerNames[i]].dy)
  .attr("text-anchor", i => labelLayout[playerNames[i]].anchor)
  .attr("font-family", annoFont).attr("font-size", 19).attr("font-weight", "bold")
  .attr("fill", colors.text)
  .text(i => playerNames[i]);

// legend
const lg = svg.append("g");
lg.append("rect").attr("x", 129).attr("y", 48).attr("width", 435).attr("height", 66)
  .attr("rx", 4).attr("fill", colors.bg).attr("fill-opacity", 0.8)
  .attr("stroke", "#dcdcdc").attr("stroke-width", 1);
lg.append("circle").attr("cx", 156).attr("cy", 67).attr("r", 3.2).attr("fill", colors.red);
lg.append("circle").attr("cx", 156).attr("cy", 97).attr("r", 7.5).attr("fill", colors.blue);
lg.selectAll("text").data(legendLabels).join("text")
  .attr("x", 192).attr("y", (d, i) => 71.5 + i * 30)
  .attr("font-family", mainFont).attr("font-size", 20).attr("font-weight", "bold")
  .attr("fill", colors.text).text(d => d);

// title & axis labels
svg.append("text").attr("x", (plot.left + plot.right) / 2).attr("y", 31)
  .attr("text-anchor", "middle").attr("font-family", mainFont).attr("font-size", 28)
  .attr("font-weight", "bold").attr("fill", colors.text).text(titleText);
svg.append("text").attr("x", (plot.left + plot.right) / 2).attr("y", 735)
  .attr("text-anchor", "middle").attr("font-family", mainFont).attr("font-size", 25)
  .attr("font-weight", "bold").attr("fill", colors.text).text(xLabelText);
svg.append("text").attr("transform", `translate(25,${(plot.top + plot.bottom) / 2}) rotate(-90)`)
  .attr("text-anchor", "middle").attr("font-family", mainFont).attr("font-size", 25)
  .attr("font-weight", "bold").attr("fill", colors.text).text(yLabelText);
</script>
</body>
</html>
